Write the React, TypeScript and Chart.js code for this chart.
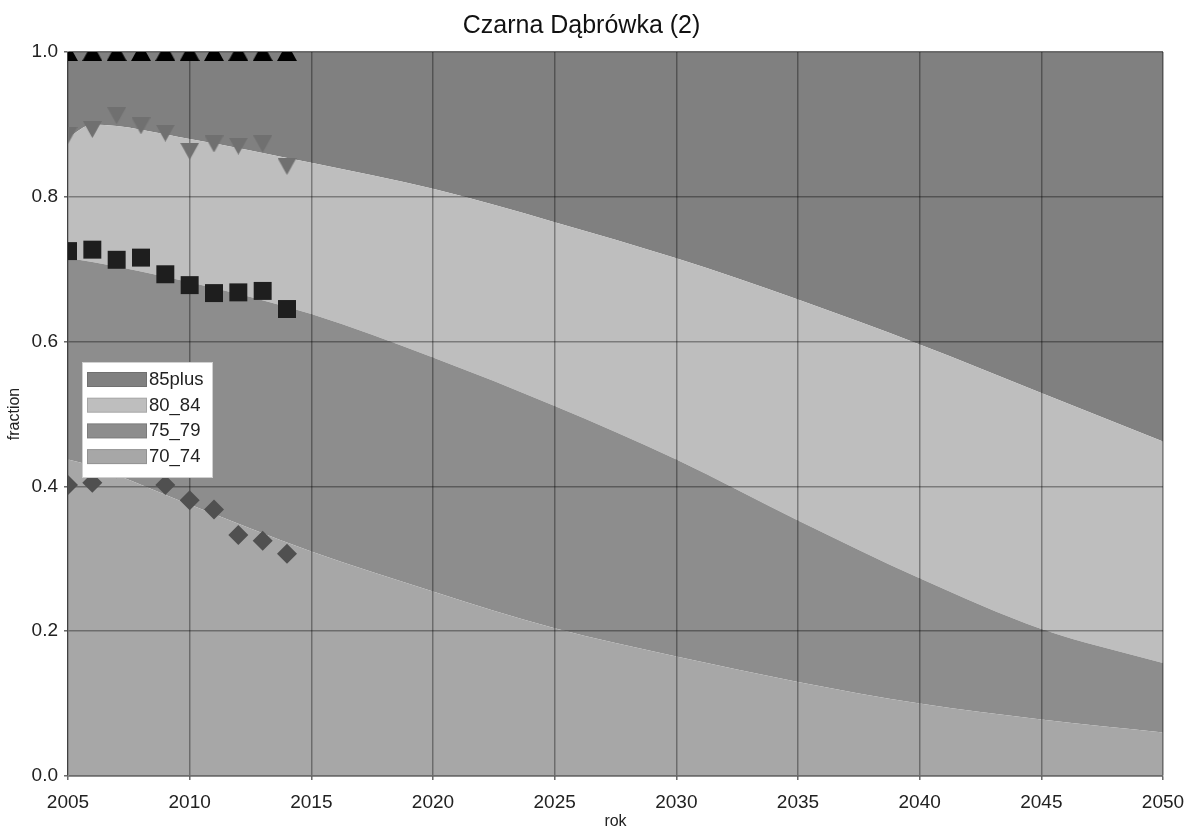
import React, { useEffect, useRef } from 'react';
import { Chart, registerables } from 'chart.js';

Chart.register(...registerables);

const TITLE = 'Czarna Dąbrówka (2)';
const X_TITLE = 'rok';
const Y_TITLE = 'fraction';

// Projected cumulative fractions (stack boundaries)
const projYears = [2005, 2006, 2010, 2015, 2020, 2025, 2030, 2035, 2040, 2045, 2050];
const cum70_74 = [0.437, 0.428, 0.375, 0.310, 0.255, 0.204, 0.165, 0.130, 0.100, 0.078, 0.060];
const cum75_79 = [0.715, 0.710, 0.682, 0.638, 0.578, 0.511, 0.437, 0.353, 0.273, 0.203, 0.156];
const cum80_84 = [0.882, 0.900, 0.880, 0.847, 0.811, 0.765, 0.715, 0.658, 0.596, 0.529, 0.462];
const cum85plus = [1.0, 1.0, 1.0, 1.0, 1.0, 1.0, 1.0, 1.0, 1.0, 1.0, 1.0];

// Observed cumulative fractions (markers)
const obsYears = [2005, 2006, 2007, 2008, 2009, 2010, 2011, 2012, 2013, 2014];
const obs70_74 = [0.402, 0.405, 0.425, 0.432, 0.402, 0.381, 0.368, 0.333, 0.325, 0.307];
const obs75_79 = [0.725, 0.727, 0.713, 0.716, 0.693, 0.678, 0.667, 0.668, 0.670, 0.645];
const obs80_84 = [0.885, 0.893, 0.912, 0.898, 0.888, 0.863, 0.873, 0.870, 0.873, 0.842];
const obs85plus = [1.0, 1.0, 1.0, 1.0, 1.0, 1.0, 1.0, 1.0, 1.0, 1.0];

const xTicks = [2005, 2010, 2015, 2020, 2025, 2030, 2035, 2040, 2045, 2050];
const yTicks = [0, 0.2, 0.4, 0.6, 0.8, 1.0];

const legendNames = ['85plus', '80_84', '75_79', '70_74'];

const COLORS = {
  c85plus: '#808080',
  c80_84: '#bebebe',
  c75_79: '#8d8d8d',
  c70_74: '#a7a7a7',
};

const FONT = '"Liberation Sans", Arial, sans-serif';

function triangleCanvas(up: boolean, w: number, h: number, color: string) {
  const c = document.createElement('canvas');
  c.width = w;
  c.height = h;
  const ctx = c.getContext('2d')!;
  ctx.fillStyle = color;
  ctx.beginPath();
  if (up) {
    ctx.moveTo(w / 2, 0);
    ctx.lineTo(w, h);
    ctx.lineTo(0, h);
  } else {
    ctx.moveTo(0, 0);
    ctx.lineTo(w, 0);
    ctx.lineTo(w / 2, h);
  }
  ctx.closePath();
  ctx.fill();
  return c;
}

const pts = (xs: number[], ys: number[]) => xs.map((x, i) => ({ x, y: ys[i] }));

export default function App() {
  const ref = useRef<HTMLCanvasElement | null>(null);

  useEffect(() => {
    document.body.style.margin = '0';
    document.body.style.background = '#ffffff';
    const canvas = ref.current!;
    const upTri = triangleCanvas(true, 20, 18, '#000000');
    const downTri = triangleCanvas(false, 19, 17, '#707070');

    const gridOnTop = {
      id: 'gridOnTop',
      afterDatasetDraw(chart: any, args: any) {
        if (args.index === 0) {
          const ca = chart.chartArea;
          chart.scales.x.drawGrid(ca);
          chart.scales.y.drawGrid(ca);
        }
      },
    };

    const boxLegend = {
      id: 'boxLegend',
      afterDraw(chart: any) {
        const ctx = chart.ctx;
        const a = chart.chartArea;
        const x0 = a.left + 14;
        const y0 = a.top + 310;
        const w = 131;
        const h = 116;
        ctx.save();
        ctx.fillStyle = '#ffffff';
        ctx.fillRect(x0, y0, w, h);
        ctx.strokeStyle = '#d0d0d0';
        ctx.lineWidth = 1;
        ctx.strokeRect(x0 + 0.5, y0 + 0.5, w - 1, h - 1);
        const colorByName: Record<string, string> = {};
        chart.data.datasets.forEach((d: any) => {
          if (d.isArea) colorByName[d.label] = d.backgroundColor;
        });
        legendNames.forEach((name, i) => {
          const sy = y0 + 10 + i * 25.7;
          ctx.fillStyle = colorByName[name];
          ctx.fillRect(x0 + 5, sy, 60, 15);
          ctx.strokeStyle = 'rgba(0,0,0,0.12)';
          ctx.strokeRect(x0 + 5.5, sy + 0.5, 59, 14);
          ctx.fillStyle = '#222222';
          ctx.font = `18.5px ${FONT}`;
          ctx.textBaseline = 'middle';
          ctx.textAlign = 'left';
          ctx.fillText(name, x0 + 67, sy + 8);
        });
        ctx.restore();
      },
    };

    const area = (label: string, ys: number[], color: string, fill: any) => ({
      type: 'line',
      label,
      isArea: true,
      data: pts(projYears, ys),
      backgroundColor: color,
      borderColor: color,
      borderWidth: 0,
      pointRadius: 0,
      fill,
      cubicInterpolationMode: 'monotone',
      order: 1,
    });

    const marker = (label: string, ys: number[], style: any, radius: number, color: string) => ({
      type: 'line',
      label,
      data: pts(obsYears, ys),
      showLine: false,
      pointStyle: style,
      pointRadius: radius,
      pointBackgroundColor: color,
      pointBorderColor: color,
      pointBorderWidth: 0,
      backgroundColor: color,
      borderColor: color,
      clip: 0,
      order: 0,
    });

    const chart = new Chart(canvas, {
      type: 'line',
      data: {
        datasets: [
          area('70_74', cum70_74, COLORS.c70_74, 'origin'),
          area('75_79', cum75_79, COLORS.c75_79, '-1'),
          area('80_84', cum80_84, COLORS.c80_84, '-1'),
          area('85plus', cum85plus, COLORS.c85plus, '-1'),
          marker('obs 70_74', obs70_74, 'rectRot', 10, '#505050'),
          marker('obs 75_79', obs75_79, 'rect', 12.7, '#1e1e1e'),
          marker('obs 80_84', obs80_84, downTri, 9, '#707070'),
          marker('obs 85plus', obs85plus, upTri, 9, '#000000'),
        ] as any,
      },
      options: {
        responsive: false,
        animation: false,
        devicePixelRatio: 1,
        layout: { padding: { left: 0, right: 23, top: 0, bottom: 0 } },
        plugins: {
          legend: { display: false },
          tooltip: { enabled: false },
          title: {
            display: true,
            text: TITLE,
            color: '#111111',
            font: { family: FONT, size: 25, weight: 'normal' },
            padding: { top: 11, bottom: 11 },
          },
        },
        scales: {
          x: {
            type: 'linear',
            min: 2005,
            max: 2050,
            afterBuildTicks: (s: any) => {
              s.ticks = xTicks.map((v) => ({ value: v }));
            },
            afterFit: (s: any) => {
              s.height = 55;
              s.paddingLeft = 0;
              s.paddingRight = 0;
            },
            ticks: {
              color: '#222222',
              font: { family: FONT, size: 19 },
              padding: 11,
              maxRotation: 0,
              callback: (v: any) => String(v),
            },
            grid: {
              color: 'rgba(0,0,0,0.35)',
              lineWidth: 1.5,
              tickLength: 4,
            },
            border: { color: 'rgba(0,0,0,0.4)', width: 1.5 },
            title: {
              display: true,
              text: X_TITLE,
              color: '#222222',
              font: { family: FONT, size: 16 },
              padding: { top: 0, bottom: 0 },
            },
          },
          y: {
            type: 'linear',
            min: 0,
            max: 1,
            afterBuildTicks: (s: any) => {
              s.ticks = yTicks.map((v) => ({ value: v }));
            },
            afterFit: (s: any) => {
              s.width = 68;
              s.paddingTop = 0;
              s.paddingBottom = 0;
            },
            ticks: {
              color: '#222222',
              font: { family: FONT, size: 19 },
              padding: 6,
              callback: (v: any) => Number(v).toFixed(1),
            },
            grid: {
              color: 'rgba(0,0,0,0.35)',
              lineWidth: 1.5,
              tickLength: 4,
            },
            border: { color: 'rgba(0,0,0,0.4)', width: 1.5 },
            title: {
              display: true,
              text: Y_TITLE,
              color: '#222222',
              font: { family: FONT, size: 16 },
              padding: { top: 5, bottom: 0 },
            },
          },
        },
      } as any,
      plugins: [gridOnTop, boxLegend],
    });

    return () => chart.destroy();
  }, []);

  return (
    <canvas
      ref={ref}
      width={1186}
      height={831}
      style={{ display: 'block', width: 1186, height: 831 }}
    />
  );
}
